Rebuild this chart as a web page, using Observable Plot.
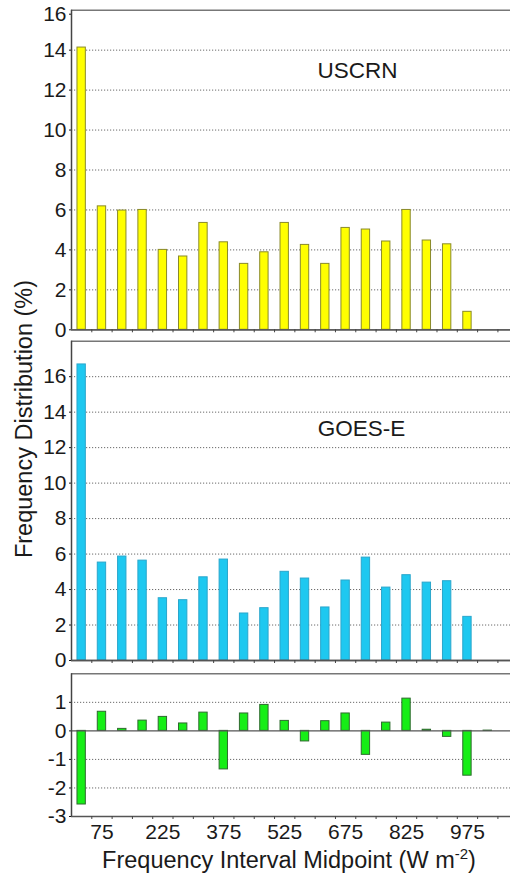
<!DOCTYPE html>
<html><head><meta charset="utf-8">
<script src="https://cdn.jsdelivr.net/npm/d3@7"></script>
<script src="https://cdn.jsdelivr.net/npm/@observablehq/plot@0.6"></script>
<style>
html,body{margin:0;padding:0;background:#fff;overflow:hidden;}
#wrap{position:relative;width:510px;height:875px;font-family:"Liberation Sans",Arial,sans-serif;color:#1a1a1a;}
.panel{position:absolute;left:0;}
#ytitle{position:absolute;left:24px;top:419px;transform:translate(-50%,-50%) rotate(-90deg);font-size:23.5px;white-space:nowrap;}
#xtitle{position:absolute;left:289px;top:860px;transform:translate(-50%,-50%);font-size:23.5px;white-space:nowrap;}
#xtitle sup{font-size:15px;vertical-align:9px;line-height:0;}
</style></head><body>
<div id="wrap">
  <div id="p1" class="panel" style="top:0px"></div>
  <div id="p2" class="panel" style="top:335px"></div>
  <div id="p3" class="panel" style="top:668px"></div>
  <div id="ytitle">Frequency Distribution (%)</div>
  <div id="xtitle">Frequency Interval Midpoint (W m<sup>-2</sup>)</div>
</div>
<script>
// Interval midpoints (W m-2)
const midpoints = [25,75,125,175,225,275,325,375,425,475,525,575,625,675,725,775,825,875,925,975,1025];
// USCRN frequency distribution (%)
const uscrn = [14.13,6.18,5.97,6.0,4.0,3.67,5.35,4.38,3.3,3.88,5.35,4.25,3.3,5.1,5.02,4.42,6.0,4.47,4.28,0.9,0];
// GOES-E frequency distribution (%)
const goes = [16.69,5.52,5.86,5.63,3.51,3.40,4.69,5.69,2.65,2.95,5.0,4.62,2.99,4.51,5.80,4.11,4.81,4.39,4.47,2.46,0];
// Difference (USCRN - GOES-E)
const diff = [-2.58,0.67,0.07,0.36,0.49,0.26,0.64,-1.35,0.61,0.91,0.35,-0.37,0.34,0.61,-0.84,0.29,1.13,0.04,-0.21,-1.57,0.01];
// Tick labels
const xTickLabels = [75,225,375,525,675,825,975];
const yTicks1 = [0,2,4,6,8,10,12,14,16];
const yTicks2 = [0,2,4,6,8,10,12,14,16];
const yTicks3 = [-3,-2,-1,0,1];
const panelLabels = ["USCRN","GOES-E"];

const FONT = "'Liberation Sans', Arial, sans-serif";
const binEdges = midpoints.map(m => m + 25);
const halfBar = 10.3;

function panel({values, yDomain, yTicks, grid, fill, stroke, height, marginTop, marginBottom, label, labelPos, xLabels, skipZero}) {
  const data = midpoints.map((m, i) => ({mid: m, v: values[i]})).filter(d => !skipZero || d.v !== 0);
  const topTick = yTicks.filter(t => t === yDomain[1]);
  const otherTicks = yTicks.filter(t => t !== yDomain[1]);
  const fmt = d => d < 0 ? "-" + Math.abs(d) : String(d);
  const marks = [
    Plot.ruleY(grid, {stroke: "#6a6a6a", strokeWidth: 1, strokeDasharray: "1.2,1.8"}),
    Plot.rect(data, {x1: d => d.mid - halfBar, x2: d => d.mid + halfBar, y1: 0, y2: "v", fill, stroke, strokeWidth: 1}),
    Plot.ruleY([0], {stroke: "#555", strokeWidth: 1.3}),
    Plot.ruleY([yDomain[1]], {stroke: "#777", strokeWidth: 1.5}),
    Plot.ruleY([yDomain[0]], {stroke: "#555", strokeWidth: 1.3}),
    Plot.ruleX([0], {stroke: "#444", strokeWidth: 1.5}),
    Plot.axisX(binEdges, {anchor: "bottom", tickSize: 3, tickFormat: () => "", label: null, stroke: "#444"}),
    Plot.axisY(otherTicks, {anchor: "left", tickSize: 2, tickPadding: 3, label: null, fontSize: 21, tickFormat: fmt})
  ];
  if (topTick.length) marks.push(Plot.axisY(topTick, {anchor: "left", tickSize: 2, tickPadding: 3, label: null, fontSize: 21, dy: 4, tickFormat: fmt}));
  if (xLabels) marks.push(Plot.axisX(xLabels, {anchor: "bottom", tickSize: 0, tickPadding: 8, label: null, fontSize: 21}));
  if (label) marks.push(Plot.text([label], {frameAnchor: "top-left", dx: labelPos[0], dy: labelPos[1], text: d => d, fontSize: 22.5, textAnchor: "middle", lineAnchor: "middle", fill: "#1a1a1a"}));
  return Plot.plot({
    width: 510, height, marginLeft: 71, marginRight: 0, marginTop, marginBottom,
    style: {fontFamily: FONT, color: "#1a1a1a", background: "transparent", overflow: "visible"},
    x: {domain: [0, 1081]},
    y: {domain: yDomain},
    marks
  });
}

document.getElementById("p1").appendChild(panel({
  values: uscrn, yDomain: [0, 16], yTicks: yTicks1, grid: [2,4,6,8,10,12,14],
  fill: "#ffff00", stroke: "#8a8a2a", height: 335, marginTop: 9.7, marginBottom: 5.7,
  label: panelLabels[0], labelPos: [286, 61], skipZero: true
}));
document.getElementById("p2").appendChild(panel({
  values: goes, yDomain: [0, 18], yTicks: yTicks2, grid: [2,4,6,8,10,12,14,16],
  fill: "#1ec8f0", stroke: "#2aa6cc", height: 333, marginTop: 5.7, marginBottom: 8,
  label: panelLabels[1], labelPos: [290, 88], skipZero: true
}));
document.getElementById("p3").appendChild(panel({
  values: diff, yDomain: [-3, 2], yTicks: yTicks3, grid: [1,-1,-2],
  fill: "#16ee16", stroke: "#2f6a2f", height: 207, marginTop: 5.3, marginBottom: 59,
  xLabels: xTickLabels
}));
</script>
</body></html>
